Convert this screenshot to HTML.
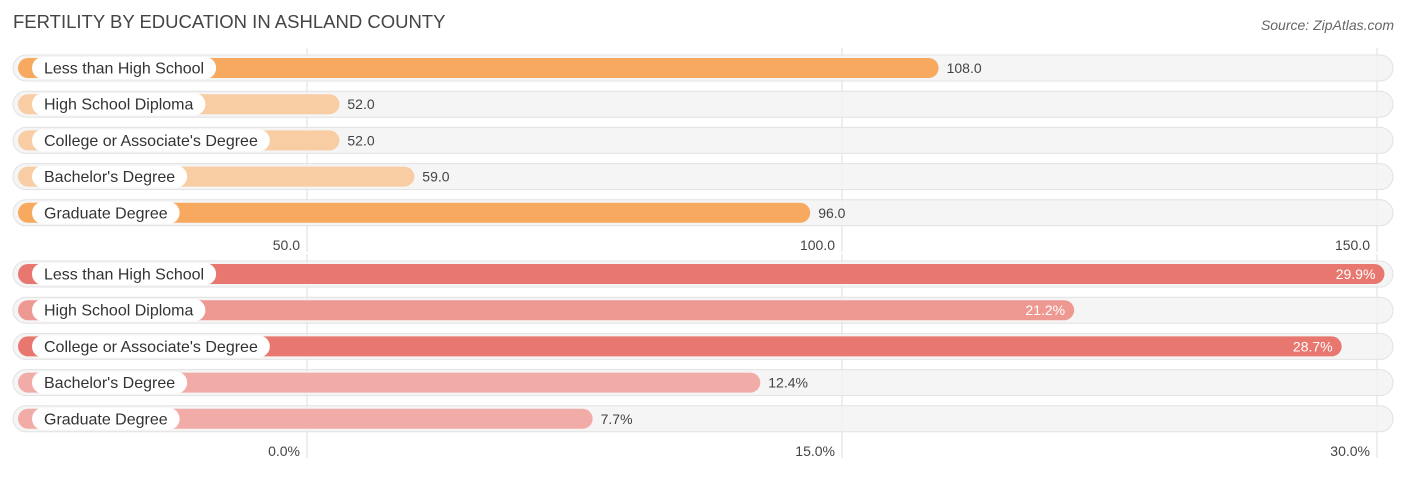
<!DOCTYPE html>
<html><head><meta charset="utf-8"><style>
body{margin:0;background:#fff;font-family:"Liberation Sans",sans-serif;}
svg text{font-family:"Liberation Sans",sans-serif;}
</style></head><body>
<svg id="c" width="1406" height="475" xmlns="http://www.w3.org/2000/svg">
<text x="13" y="28" font-size="18.5" fill="#444">FERTILITY BY EDUCATION IN ASHLAND COUNTY</text>
<text x="1394" y="30" font-size="14" fill="#666" font-style="italic" text-anchor="end">Source: ZipAtlas.com</text>
</svg>
<script>
const categories=["Less than High School","High School Diploma","College or Associate's Degree","Bachelor's Degree","Graduate Degree"];
const births=[108.0,52.0,52.0,59.0,96.0];
const percents=[29.9,21.2,28.7,12.4,7.7];
const topTicks=[50,100,150];
const botTicks=[0,15,30];
const svg=document.getElementById('c');
const NS='http://www.w3.org/2000/svg';
function mk(t,a,p){const e=document.createElementNS(NS,t);for(const k in a)e.setAttribute(k,a[k]);(p||svg).appendChild(e);return e;}
function panel(vals,ticks,y0,rowH,axisY,fmt,colorFn,name){
  const x0=307,x1=1377,tmin=ticks[0],tmax=ticks[ticks.length-1];
  const sx=v=>x0+(v-tmin)/(tmax-tmin)*(x1-x0);
  const g=mk('g',{});
  
  
  ticks.forEach(t=>{
    const l=mk('line',{x1:sx(t),x2:sx(t),y1:y0-20,y2:axisY+8,stroke:'#ddd','stroke-width':1},g);
    
    
    const tx=mk('text',{x:sx(t)-7,y:axisY+6,'font-size':14,fill:'#444','text-anchor':'end'},g);
    
    
    tx.textContent=t.toFixed(1)+(fmt==='%'?'%':'');
  });
  const max=Math.max(...vals);
  vals.forEach((v,i)=>{
    const cy=y0+i*rowH;
    const tr=mk('rect',{x:13,y:cy-13,width:1380,height:26,rx:13,fill:'#f3f3f3','fill-opacity':0.85,stroke:'#e2e2e2'},g);
    
    
    const end=sx(v)+11;
    const b=mk('rect',{x:18,y:cy-10,width:end-18,height:20,rx:10,fill:colorFn(v,max)},g);
    
    
    const p=mk('rect',{x:32,y:cy-11,width:100,height:22,rx:11,fill:'#fff'},g);
    
    
    const ct=mk('text',{x:44,y:cy+5.5,'font-size':16,fill:'#333'},g);
    
    
    ct.textContent=categories[i];
    p.setAttribute('width',ct.getComputedTextLength()+24);
    const lab=v.toFixed(1)+(fmt==='%'?'%':'');
    const inside=fmt==='%'&&v>15;
    const vt=mk('text',{x:inside?end-9:end+8,y:cy+5,'font-size':14,fill:inside?'#fff':'#444','text-anchor':inside?'end':'start'},g);
    
    
    vt.textContent=lab;
  });
}
panel(births,topTicks,68,36.2,244,'',(v,m)=>v/m>0.8?'#f6a95f':'#f9cda3','births-panel');
panel(percents,botTicks,274,36.2,450,'%',(v,m)=>v/m>0.9?'#e8776f':(v/m>0.6?'#ee9892':'#f2aca8'),'percent-panel');
</script>
</body></html>
